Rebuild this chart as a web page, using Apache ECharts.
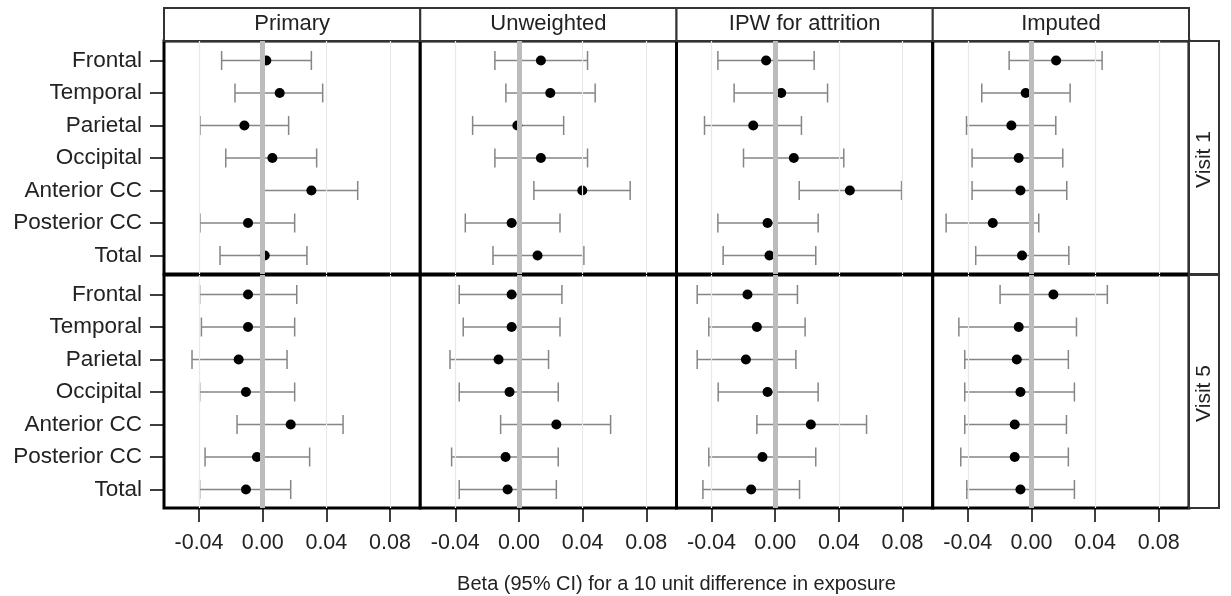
<!DOCTYPE html>
<html><head><meta charset="utf-8">
<script src="https://cdn.jsdelivr.net/npm/echarts@6/dist/echarts.min.js"></script>
<style>html,body{margin:0;padding:0;background:#fff}#c{width:1231px;height:596px}</style>
</head><body><div id="c"></div><script>
// ---- data ----
const columns = ['Primary', 'Unweighted', 'IPW for attrition', 'Imputed'];
const visits = ['Visit 1', 'Visit 5'];
const regions = ['Frontal', 'Temporal', 'Parietal', 'Occipital', 'Anterior CC', 'Posterior CC', 'Total'];
const xTicks = [-0.04, 0, 0.04, 0.08];
const axisTitle = 'Beta (95% CI) for a 10 unit difference in exposure';

const primaryV1Est = [0.0023, 0.0107, -0.0115, 0.0061, 0.0306, -0.0092, 0.0013];
const primaryV1Lo  = [-0.0258, -0.0174, -0.0394, -0.0232, 0.0002, -0.0394, -0.0268];
const primaryV1Hi  = [0.0306, 0.0377, 0.0163, 0.0339, 0.0597, 0.0201, 0.0278];
const primaryV5Est = [-0.0092, -0.0092, -0.0151, -0.0105, 0.0176, -0.0036, -0.0105];
const primaryV5Lo  = [-0.0396, -0.0385, -0.0444, -0.0396, -0.0161, -0.0362, -0.0396];
const primaryV5Hi  = [0.0214, 0.0201, 0.0153, 0.0201, 0.0505, 0.0295, 0.0176];

const unweightedV1Est = [0.0138, 0.0197, -0.0010, 0.0138, 0.0398, -0.0046, 0.0117];
const unweightedV1Lo  = [-0.0151, -0.0082, -0.0291, -0.0151, 0.0094, -0.0337, -0.0163];
const unweightedV1Hi  = [0.0431, 0.0479, 0.0281, 0.0431, 0.0699, 0.0258, 0.0408];
const unweightedV5Est = [-0.0046, -0.0046, -0.0128, -0.0059, 0.0235, -0.0084, -0.0071];
const unweightedV5Lo  = [-0.0375, -0.0350, -0.0433, -0.0375, -0.0115, -0.0423, -0.0375];
const unweightedV5Hi  = [0.0270, 0.0258, 0.0186, 0.0247, 0.0576, 0.0247, 0.0235];

const ipwV1Est = [-0.0057, 0.0038, -0.0138, 0.0117, 0.0469, -0.0048, -0.0036];
const ipwV1Lo  = [-0.0360, -0.0258, -0.0444, -0.0199, 0.0151, -0.0360, -0.0327];
const ipwV1Hi  = [0.0245, 0.0329, 0.0165, 0.0431, 0.0794, 0.0270, 0.0255];
const ipwV5Est = [-0.0174, -0.0115, -0.0184, -0.0048, 0.0224, -0.0080, -0.0151];
const ipwV5Lo  = [-0.0490, -0.0417, -0.0490, -0.0358, -0.0115, -0.0417, -0.0454];
const ipwV5Hi  = [0.0140, 0.0188, 0.0130, 0.0270, 0.0574, 0.0255, 0.0153];

const imputedV1Est = [0.0155, -0.0036, -0.0126, -0.0080, -0.0069, -0.0243, -0.0059];
const imputedV1Lo  = [-0.0140, -0.0312, -0.0408, -0.0373, -0.0373, -0.0536, -0.0350];
const imputedV1Hi  = [0.0444, 0.0243, 0.0153, 0.0197, 0.0222, 0.0046, 0.0235];
const imputedV5Est = [0.0138, -0.0080, -0.0092, -0.0069, -0.0105, -0.0105, -0.0069];
const imputedV5Lo  = [-0.0197, -0.0456, -0.0419, -0.0419, -0.0419, -0.0444, -0.0406];
const imputedV5Hi  = [0.0477, 0.0283, 0.0232, 0.0270, 0.0220, 0.0232, 0.0270];

const panels = [
  [[primaryV1Est, primaryV1Lo, primaryV1Hi], [unweightedV1Est, unweightedV1Lo, unweightedV1Hi], [ipwV1Est, ipwV1Lo, ipwV1Hi], [imputedV1Est, imputedV1Lo, imputedV1Hi]],
  [[primaryV5Est, primaryV5Lo, primaryV5Hi], [unweightedV5Est, unweightedV5Lo, unweightedV5Hi], [ipwV5Est, ipwV5Lo, ipwV5Hi], [imputedV5Est, imputedV5Lo, imputedV5Hi]]
];

// ---- layout ----
const FONT = '"Liberation Sans", Arial, sans-serif';
const L = 164, W = 256.25, H = 233;
const rowTop = [41, 275];
const X_MIN = -0.062, X_MAX = 0.099;
const yIdx = regions.map((_, i) => i);

const chart = echarts.init(document.getElementById('c'), null, {renderer: 'canvas'});
const grids = [], xAxes = [], yAxes = [], series = [], graphics = [];

for (let r = 0; r < 2; r++) {
  for (let c = 0; c < 4; c++) {
    const gi = r * 4 + c;
    grids.push({left: L + c * W, top: rowTop[r], width: W, height: H, show: true,
      borderColor: '#000', borderWidth: 3, backgroundColor: '#fff', containLabel: false});
    xAxes.push({type: 'value', gridIndex: gi, min: X_MIN, max: X_MAX, position: 'bottom',
      axisLine: {show: false, onZero: false}, splitLine: {show: false},
      axisTick: {show: r === 1, length: 14, customValues: xTicks, lineStyle: {color: '#000', width: 1.5}},
      axisLabel: {show: r === 1, customValues: xTicks, margin: 24, fontSize: 21.5, fontFamily: FONT, color: '#222',
        formatter: v => v.toFixed(2)}});
    yAxes.push({type: 'value', gridIndex: gi, inverse: true, min: -0.6, max: 6.57, position: 'left',
      axisLine: {show: false, onZero: false}, splitLine: {show: false},
      axisTick: {show: c === 0, length: 14, customValues: yIdx, lineStyle: {color: '#000', width: 1.5}},
      axisLabel: {show: c === 0, customValues: yIdx, margin: 22, fontSize: 22.5, fontFamily: FONT, color: '#222',
        formatter: v => regions[Math.round(v)]}});
    const [est, lo, hi] = panels[r][c];
    // reference / grid lines
    series.push({type: 'line', xAxisIndex: gi, yAxisIndex: gi, data: [], z: 1, silent: true,
      markLine: {silent: true, symbol: ['none', 'none'], label: {show: false}, animation: false,
        data: [
          {xAxis: -0.04, lineStyle: {color: '#e8e8e8', width: 1.2, type: 'solid'}},
          {xAxis: 0.04, lineStyle: {color: '#e8e8e8', width: 1.2, type: 'solid'}},
          {xAxis: 0.08, lineStyle: {color: '#e8e8e8', width: 1.2, type: 'solid'}},
          {xAxis: 0, lineStyle: {color: '#bcbcbc', width: 5, type: 'solid'}}
        ]}});
    // error bars
    series.push({type: 'custom', xAxisIndex: gi, yAxisIndex: gi, z: 2, silent: true, animation: false,
      data: regions.map((_, i) => [i, lo[i], hi[i]]),
      encode: {x: [1, 2], y: 0},
      renderItem: (params, api) => {
        const y = api.value(0);
        const p1 = api.coord([api.value(1), y]);
        const p2 = api.coord([api.value(2), y]);
        const h = 9.5;
        const st = {stroke: '#858585', lineWidth: 1.5};
        return {type: 'group', children: [
          {type: 'line', shape: {x1: p1[0], y1: p1[1], x2: p2[0], y2: p2[1]}, style: st},
          {type: 'line', shape: {x1: p1[0], y1: p1[1] - h, x2: p1[0], y2: p1[1] + h}, style: st},
          {type: 'line', shape: {x1: p2[0], y1: p2[1] - h, x2: p2[0], y2: p2[1] + h}, style: st}
        ]};
      }});
    // point estimates
    series.push({type: 'scatter', xAxisIndex: gi, yAxisIndex: gi, z: 3, silent: true, animation: false,
      symbol: 'circle', symbolSize: 10, itemStyle: {color: '#000', opacity: 1},
      data: est.map((v, i) => [v, i])});
  }
}

// column header strips
columns.forEach((name, c) => {
  graphics.push({type: 'rect', shape: {x: L + c * W, y: 8, width: W, height: 33},
    style: {fill: '#fff', stroke: '#333', lineWidth: 2}, z: 0});
  graphics.push({type: 'text', x: L + c * W + W / 2, y: 24, z: 1,
    style: {text: name, fontSize: 22, fontFamily: FONT, fill: '#222', textAlign: 'center', textVerticalAlign: 'middle'}});
});
// row strips
visits.forEach((name, r) => {
  graphics.push({type: 'rect', shape: {x: L + 4 * W, y: rowTop[r], width: 30, height: H},
    style: {fill: '#fff', stroke: '#333', lineWidth: 2}, z: 0});
  graphics.push({type: 'text', x: L + 4 * W + 15, y: rowTop[r] + H / 2 + 2, rotation: Math.PI / 2, z: 1,
    style: {text: name, fontSize: 21, fontFamily: FONT, fill: '#222', textAlign: 'center', textVerticalAlign: 'middle'}});
});
// axis title
graphics.push({type: 'text', x: L + 2 * W, y: 584,
  style: {text: axisTitle, fontSize: 20, fontFamily: FONT, fill: '#222', textAlign: 'center', textVerticalAlign: 'middle'}});

chart.setOption({
  animation: false,
  backgroundColor: '#fff',
  grid: grids, xAxis: xAxes, yAxis: yAxes, series: series, graphic: graphics
});
</script></body></html>
